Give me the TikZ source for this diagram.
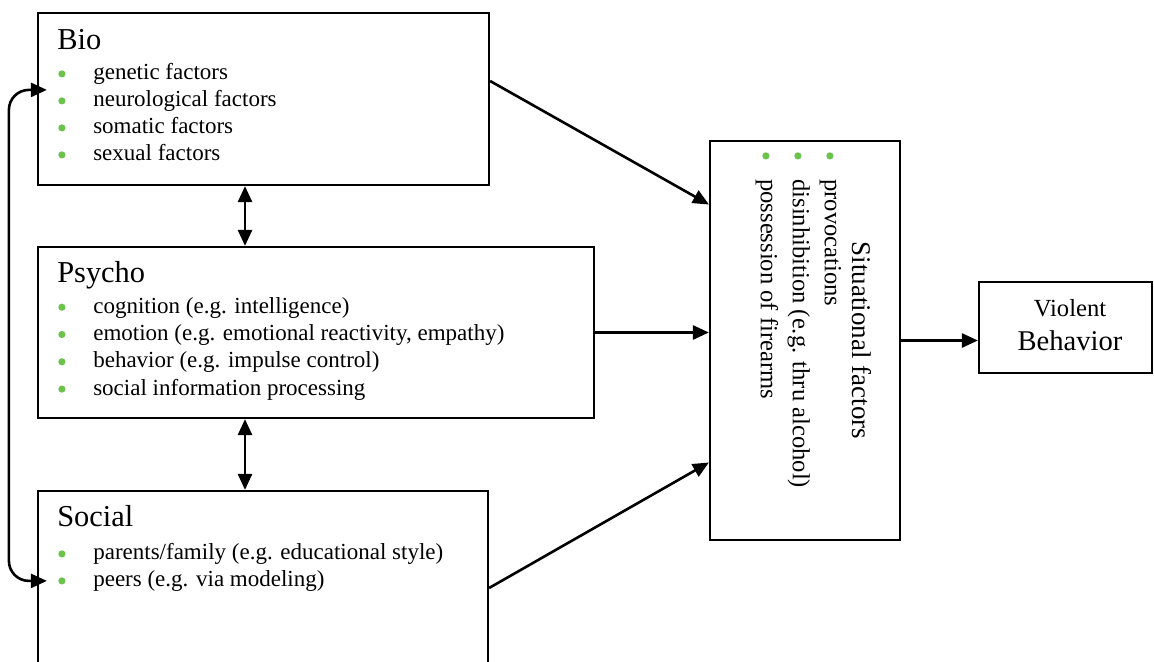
\documentclass[tikz,border=0pt]{standalone}
\usepackage{fontspec}
\setmainfont{Liberation Serif}
\usetikzlibrary{arrows.meta,calc,positioning}
\definecolor{bulletgreen}{HTML}{6CC24A}
\tikzset{>={Triangle[length=8pt,width=7pt]},line width=1pt,
  every node/.style={inner sep=0pt},
  factorbox/.style={draw,line width=1.1pt,fill=white},
  boxtitle/.style={anchor=base west,font=\fontsize{15.2}{18}\selectfont},
  listitem/.style={anchor=base west,font=\fontsize{11.5}{13.7}\selectfont},
  sititem/.style={rotate=-90,anchor=base west,font=\fontsize{12.3}{15}\selectfont},
  greendot/.style={circle,fill=bulletgreen,minimum size=3.6pt},
  link/.style={->,line width=1.3pt},
  twoway/.style={<->,line width=1.3pt}}

\begin{document}
\begin{tikzpicture}[x=.5pt,y=-.5pt]
\useasboundingbox (0,0) rectangle (1154,662);
\clip (0,0) rectangle (1154,662);
% the three factor boxes
\node[factorbox,minimum width=225.5pt,minimum height=86pt] (bio) at (263.5,99) {};
\node[factorbox,minimum width=278pt,minimum height=85.5pt] (psy) at (316,332.5) {};
\node[factorbox,minimum width=225pt,minimum height=100pt] (soc) at (263,591) {};
\node[boxtitle] (bio-t) at ($(bio.north west)+(20,38)$) {Bio};
\node[boxtitle] (psy-t) at ($(psy.north west)+(20,37)$) {Psycho};
\node[boxtitle] (soc-t) at ($(soc.north west)+(20,37)$) {Social};
\foreach \t [count=\i] in {genetic factors,neurological factors,somatic factors,sexual factors}{
  \node[listitem] (bio-\i) at ($(bio.north west)+(56,41+27*\i)$) {\t};
  \node[greendot] (bio-d\i) at ($(bio-\i.base west)+(-31,-6)$) {};}
\foreach \t [count=\i] in {cognition (e.g. intelligence),{emotion (e.g. emotional reactivity, empathy)},
  behavior (e.g. impulse control),social information processing}{
  \node[listitem] (psy-\i) at ($(psy.north west)+(56,40+27.3*\i)$) {\t};
  \node[greendot] (psy-d\i) at ($(psy-\i.base west)+(-31,-6)$) {};}
\foreach \t [count=\i] in {parents/family (e.g. educational style),peers (e.g. via modeling)}{
  \node[listitem] (soc-\i) at ($(soc.north west)+(56,43+27*\i)$) {\t};
  \node[greendot] (soc-d\i) at ($(soc-\i.base west)+(-31,-6)$) {};}
% situational factors, set sideways
\node[factorbox,minimum width=95pt,minimum height=199.5pt] (sit) at (805,340.5) {};
\node[rotate=-90,font=\fontsize{13.5}{16}\selectfont] (sit-t) at ($(sit.center)+(57,0)$) {Situational factors};
\foreach \t [count=\i] in {provocations,disinhibition (e.g. thru alcohol),possession of firearms}{
  \node[sititem] (sit-\i) at ($(sit.north west)+(148-32*\i,39)$) {\t};
  \node[greendot] (sit-d\i) at ($(sit-\i.base west)+(5,-23)$) {};}
% outcome
\node[factorbox,minimum width=86.5pt,minimum height=45.5pt] (vio) at (1065.5,327.5) {};
\node[anchor=base,font=\fontsize{12.3}{15}\selectfont] (vio-a) at ($(vio.center)+(4.5,-11.5)$) {Violent};
\node[anchor=base,font=\fontsize{14.3}{17}\selectfont] (vio-b) at ($(vio.center)+(4.5,22.5)$) {Behavior};
% connectors
\coordinate (col) at (245,0);
\coordinate (bio-in) at ($(bio.north west)+(10,78)$);
\coordinate (soc-in) at ($(soc.north west)+(10,91)$);
\draw[twoway] (bio.south -| col) -- (psy.north -| col);
\draw[twoway] (psy.south -| col) -- (soc.north -| col);
\draw[twoway,rounded corners=10pt] (bio-in) -| ($(soc-in)+(-38,0)$) -- (soc-in);
\draw[link] ([yshift=9pt]bio.east) -- ([yshift=68pt]sit.west);
\draw[link] (psy.east) -- (psy.east -| sit.west);
\draw[link] ([yshift=1.5pt]soc.east) -- ([yshift=-61pt]sit.west);
\draw[link] (sit.east) -- (sit.east -| vio.west);
\end{tikzpicture}
\end{document}
